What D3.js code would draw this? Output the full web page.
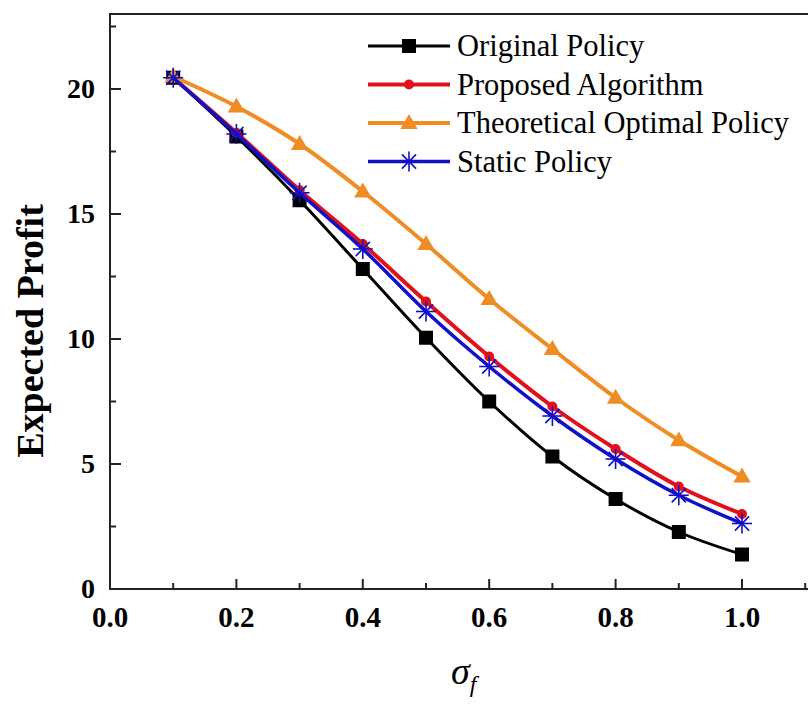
<!DOCTYPE html>
<html>
<head>
<meta charset="utf-8">
<script src="https://cdn.jsdelivr.net/npm/d3@7"></script>
<style>
  body { margin: 0; background: #fff; }
  text { font-family: "Liberation Serif", "Times New Roman", serif; }
</style>
</head>
<body>
<svg id="chart" width="808" height="704"></svg>
<script>
/** x values (sigma_f) */
var sigmaValues = [0.1, 0.2, 0.3, 0.4, 0.5, 0.6, 0.7, 0.8, 0.9, 1.0];

/** series values */
var originalPolicy    = [20.45, 18.1, 15.55, 12.8, 10.05, 7.5, 5.3, 3.6, 2.28, 1.38];
var proposedAlgorithm = [20.45, 18.25, 15.95, 13.8, 11.5, 9.3, 7.3, 5.6, 4.1, 3.0];
var theoreticalOptimal = [20.5, 19.3, 17.8, 15.9, 13.8, 11.6, 9.6, 7.65, 5.95, 4.5];
var staticPolicy      = [20.45, 18.2, 15.85, 13.6, 11.1, 8.9, 6.92, 5.2, 3.75, 2.62];

var seriesNames = ['Original Policy', 'Proposed Algorithm', 'Theoretical Optimal Policy', 'Static Policy'];

/** tick labels */
var xTickValues = [0.0, 0.2, 0.4, 0.6, 0.8, 1.0];
var xMinorTicks = [0.1, 0.3, 0.5, 0.7, 0.9, 1.1];
var yTickValues = [0, 5, 10, 15, 20];
var yMinorTicks = [2.5, 7.5, 12.5, 17.5, 22.5];

var styles = [
    { color: '#000000', width: 3,   marker: 'square' },
    { color: '#e0111b', width: 4,   marker: 'circle' },
    { color: '#f08c26', width: 4,   marker: 'triangle' },
    { color: '#1010c8', width: 3.5, marker: 'star' }
];

var svg = d3.select('#chart');

var left = 110, bottom = 589;

var xScale = d3.scaleLinear().domain([0, 1]).range([left, 742]);
var yScale = d3.scaleLinear().domain([0, 20]).range([bottom, 89]);

// frame: left, bottom and top lines (right side falls outside the picture)
var rightEdge = xScale(1.13);
svg.append('path')
    .attr('d', 'M' + rightEdge + ',' + yScale(23) + 'H' + left + 'V' + bottom + 'H' + rightEdge)
    .attr('fill', 'none')
    .attr('stroke', '#222')
    .attr('stroke-width', 2);

// x axis ticks (inward)
var xAxis = svg.append('g');
xAxis.selectAll('line.major').data(xTickValues.filter(function (d) { return d > 0; }))
    .enter().append('line')
    .attr('x1', function (d) { return xScale(d); })
    .attr('x2', function (d) { return xScale(d); })
    .attr('y1', bottom).attr('y2', bottom - 10)
    .attr('stroke', '#222').attr('stroke-width', 2);
xAxis.selectAll('line.minor').data(xMinorTicks)
    .enter().append('line')
    .attr('x1', function (d) { return xScale(d); })
    .attr('x2', function (d) { return xScale(d); })
    .attr('y1', bottom).attr('y2', bottom - 6)
    .attr('stroke', '#222').attr('stroke-width', 2);
xAxis.selectAll('text').data(xTickValues)
    .enter().append('text')
    .attr('x', function (d) { return xScale(d); })
    .attr('y', bottom + 38)
    .attr('text-anchor', 'middle')
    .attr('font-size', 29)
    .attr('font-weight', 'bold')
    .text(function (d) { return d3.format('.1f')(d); });

// y axis ticks (inward)
var yAxis = svg.append('g');
yAxis.selectAll('line.major').data(yTickValues.filter(function (d) { return d > 0; }))
    .enter().append('line')
    .attr('y1', function (d) { return yScale(d); })
    .attr('y2', function (d) { return yScale(d); })
    .attr('x1', left).attr('x2', left + 11)
    .attr('stroke', '#222').attr('stroke-width', 2);
yAxis.selectAll('line.minor').data(yMinorTicks)
    .enter().append('line')
    .attr('y1', function (d) { return yScale(d); })
    .attr('y2', function (d) { return yScale(d); })
    .attr('x1', left).attr('x2', left + 6)
    .attr('stroke', '#222').attr('stroke-width', 2);
yAxis.selectAll('text').data(yTickValues)
    .enter().append('text')
    .attr('x', left - 15)
    .attr('y', function (d) { return yScale(d) + 9; })
    .attr('text-anchor', 'end')
    .attr('font-size', 28)
    .attr('font-weight', 'bold')
    .text(function (d) { return d; });

// axis titles
svg.append('text')
    .attr('transform', 'translate(43,331) rotate(-90)')
    .attr('text-anchor', 'middle')
    .attr('font-size', 38)
    .attr('font-weight', 'bold')
    .text('Expected Profit');

var xTitle = svg.append('text')
    .attr('x', 451)
    .attr('y', 684)
    .attr('font-style', 'italic')
    .attr('font-size', 38);
xTitle.append('tspan').text('σ');
xTitle.append('tspan').attr('font-size', 24).attr('dy', 8).text('f');

// lines + markers
var allSeries = [originalPolicy, proposedAlgorithm, theoreticalOptimal, staticPolicy];

var line = d3.line()
    .x(function (d, i) { return xScale(sigmaValues[i]); })
    .y(function (d) { return yScale(d); })
    .curve(d3.curveCatmullRom);

function drawMarker(g, type, color, x, y) {
    if (type === 'square') {
        g.append('rect').attr('x', x - 7).attr('y', y - 7)
            .attr('width', 14).attr('height', 14).attr('fill', color);
    } else if (type === 'circle') {
        g.append('circle').attr('cx', x).attr('cy', y).attr('r', 5).attr('fill', color);
    } else if (type === 'triangle') {
        g.append('path')
            .attr('d', d3.symbol().type(d3.symbolTriangle).size(130)())
            .attr('transform', 'translate(' + x + ',' + (y + 1) + ')')
            .attr('fill', color);
    } else if (type === 'star') {
        var r = 10;
        [0, 45, 90, 135].forEach(function (a) {
            var rad = a * Math.PI / 180;
            g.append('line')
                .attr('x1', x - r * Math.cos(rad)).attr('y1', y - r * Math.sin(rad))
                .attr('x2', x + r * Math.cos(rad)).attr('y2', y + r * Math.sin(rad))
                .attr('stroke', color).attr('stroke-width', 1.6);
        });
    }
}

allSeries.forEach(function (values, k) {
    var st = styles[k];
    svg.append('path')
        .datum(values)
        .attr('d', line)
        .attr('fill', 'none')
        .attr('stroke', st.color)
        .attr('stroke-width', st.width);
    var g = svg.append('g');
    values.forEach(function (v, i) {
        drawMarker(g, st.marker, st.color, xScale(sigmaValues[i]), yScale(v));
    });
});

// legend
var legend = svg.append('g');
seriesNames.forEach(function (name, k) {
    var st = styles[k];
    var y = 46 + k * 38.5;
    legend.append('line')
        .attr('x1', 368).attr('x2', 450)
        .attr('y1', y).attr('y2', y)
        .attr('stroke', st.color).attr('stroke-width', st.width);
    drawMarker(legend, st.marker, st.color, 409, y);
    legend.append('text')
        .attr('x', 457).attr('y', y + 10)
        .attr('font-size', 30.5)
        .text(name);
});
</script>
</body>
</html>
